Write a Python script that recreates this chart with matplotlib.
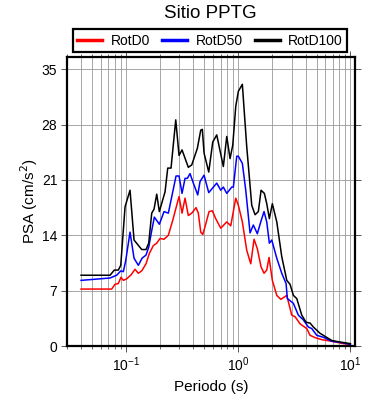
import numpy as np
import matplotlib
matplotlib.use("Agg")
import matplotlib.pyplot as plt
from matplotlib.ticker import LogLocator, NullFormatter

plt.rcParams["font.family"] = ["Liberation Sans", "DejaVu Sans"]

# RotD100 (black)
t100 = [0.040, 0.0725, 0.0791, 0.0859, 0.0903, 0.0986, 0.1092, 0.1186, 0.1388, 0.1516,
        0.1602, 0.1704, 0.1786, 0.1888, 0.1992, 0.2239, 0.2366, 0.2531, 0.2788, 0.2983,
        0.3172, 0.3608, 0.3870, 0.4342, 0.4654, 0.4809, 0.4981, 0.5483, 0.5953, 0.6461,
        0.7397, 0.7933, 0.8486, 0.8971, 0.9539, 1.006, 1.092, 1.195, 1.324, 1.417,
        1.516, 1.603, 1.715, 1.801, 1.900, 2.020, 2.212, 2.450, 2.715, 2.905,
        3.108, 3.332, 3.692, 4.032, 4.377, 4.683, 5.374, 6.830, 8.095, 10.0]
psa100 = [8.95, 8.95, 9.6, 9.6, 10.2, 17.6, 19.7, 13.4, 12.2, 12.2,
          13.0, 16.8, 17.3, 19.2, 17.0, 19.5, 22.5, 22.5, 28.6, 24.1,
          24.8, 22.6, 22.9, 25.0, 27.3, 27.4, 24.4, 22.0, 25.8, 26.7,
          22.7, 26.5, 23.7, 25.4, 30.3, 32.2, 33.1, 25.2, 17.8, 16.6,
          17.0, 19.7, 19.3, 18.0, 16.1, 18.0, 15.7, 11.3, 8.3, 7.8,
          6.4, 6.0, 3.9, 3.0, 2.9, 2.4, 1.6, 0.7, 0.5, 0.3]

# RotD50 (blue)
t50 = [0.040, 0.0725, 0.0831, 0.0903, 0.0952, 0.100, 0.1092, 0.1186, 0.1295, 0.1397,
       0.1516, 0.1602, 0.1704, 0.1798, 0.1992, 0.2193, 0.2395, 0.2805, 0.2983, 0.3172,
       0.3373, 0.3536, 0.3737, 0.3999, 0.4377, 0.4586, 0.4981, 0.5483, 0.6461, 0.7015,
       0.7397, 0.7933, 0.8788, 0.9082, 0.9737, 1.006, 1.092, 1.171, 1.279, 1.368,
       1.485, 1.593, 1.704, 1.801, 1.900, 1.996, 2.212, 2.450, 2.676, 2.748,
       3.108, 3.443, 3.815, 4.227, 4.532, 5.021, 5.749, 6.830, 8.665, 10.0]
psa50 = [8.3, 8.6, 8.95, 9.5, 9.4, 10.8, 14.4, 11.1, 10.2, 11.1,
         11.5, 12.5, 14.6, 16.3, 15.4, 17.0, 16.8, 21.5, 21.5, 19.3,
         21.2, 21.2, 21.8, 20.6, 19.1, 20.8, 21.6, 19.4, 20.6, 19.7,
         20.1, 19.3, 20.1, 20.1, 24.0, 24.0, 23.1, 19.7, 14.3, 15.3,
         14.2, 15.7, 17.0, 15.7, 13.0, 13.4, 11.1, 9.2, 7.9, 6.0,
         5.4, 3.9, 3.3, 2.4, 2.2, 1.35, 1.1, 0.6, 0.4, 0.2]

# RotD0 (red)
t0 = [0.040, 0.0750, 0.0803, 0.0859, 0.0908, 0.0952, 0.1021, 0.1115, 0.1210, 0.1295,
      0.1388, 0.1516, 0.1622, 0.1761, 0.1888, 0.2020, 0.2193, 0.2395, 0.2621, 0.2844,
      0.2983, 0.3172, 0.3373, 0.3608, 0.3870, 0.4227, 0.4430, 0.4654, 0.4850, 0.5084,
      0.5518, 0.5903, 0.6330, 0.7015, 0.7933, 0.8610, 0.9539, 1.006, 1.092, 1.195,
      1.297, 1.388, 1.485, 1.603, 1.704, 1.801, 1.888, 2.020, 2.212, 2.400,
      2.715, 3.008, 3.219, 3.566, 4.091, 4.377, 4.851, 5.565, 6.830, 8.665, 10.0]
psa0 = [7.2, 7.2, 7.8, 7.9, 8.7, 8.3, 8.5, 9.0, 9.7, 9.2,
        9.5, 10.4, 11.7, 12.7, 13.0, 13.6, 13.5, 14.0, 15.9, 17.8,
        18.9, 16.8, 18.7, 16.5, 16.8, 17.5, 16.8, 14.4, 14.1, 15.1,
        17.0, 17.1, 16.1, 14.9, 15.7, 15.2, 18.7, 17.8, 15.7, 12.1,
        10.4, 13.5, 12.3, 10.0, 9.2, 9.6, 11.2, 8.3, 6.4, 5.9,
        6.4, 3.9, 3.7, 2.8, 2.2, 1.35, 1.06, 0.8, 0.6, 0.3, 0.2]

yticks = [0, 7, 14, 21, 28, 35]

fig = plt.figure(figsize=(3.9, 4.0), dpi=100)
ax = fig.add_axes([0.1718, 0.135, 0.7385, 0.7225])

ax.plot(t0, psa0, color="red", lw=1.1, label="RotD0")
ax.plot(t50, psa50, color="blue", lw=1.1, label="RotD50")
ax.plot(t100, psa100, color="black", lw=1.1, label="RotD100")

ax.set_xscale("log")
ax.set_xlim(0.030, 11.0)
ax.set_ylim(0, 36.55)
ax.set_yticks(yticks)
ax.xaxis.set_major_locator(LogLocator(base=10))
ax.xaxis.set_minor_locator(LogLocator(base=10, subs=np.arange(2, 10)))
ax.xaxis.set_minor_formatter(NullFormatter())

# grid
ax.grid(True, which="both", axis="x", color="#999999", lw=0.6)
ax.grid(True, which="major", axis="y", color="#999999", lw=0.6)
ax.set_axisbelow(True)

for s in ax.spines.values():
    s.set_linewidth(1.6)

ax.tick_params(axis="both", which="major", direction="out", length=4, width=0.7,
               color="#555555", labelsize=10, top=True, right=True, pad=3)
ax.tick_params(axis="x", which="minor", direction="out", length=2.5, width=0.6,
               color="#555555", top=True)

ax.set_xlabel("Periodo (s)", fontsize=11)
ax.set_ylabel("PSA (cm/s$^2$)", fontsize=11, labelpad=1)
fig.text(0.54, 0.965, "Sitio PPTG", ha="center", va="center", fontsize=13.5)

leg = ax.legend(ncol=3, loc="lower left", bbox_to_anchor=(0.021, 1.018, 0.951, 0.08),
                mode="expand", fancybox=False, edgecolor="black", framealpha=1,
                fontsize=10, handlelength=1.8, handletextpad=0.6, borderaxespad=0,
                borderpad=0.3)
leg.get_frame().set_linewidth(1.6)
for line in leg.get_lines():
    line.set_linewidth(2.5)

fig.savefig("out.png", dpi=100)
